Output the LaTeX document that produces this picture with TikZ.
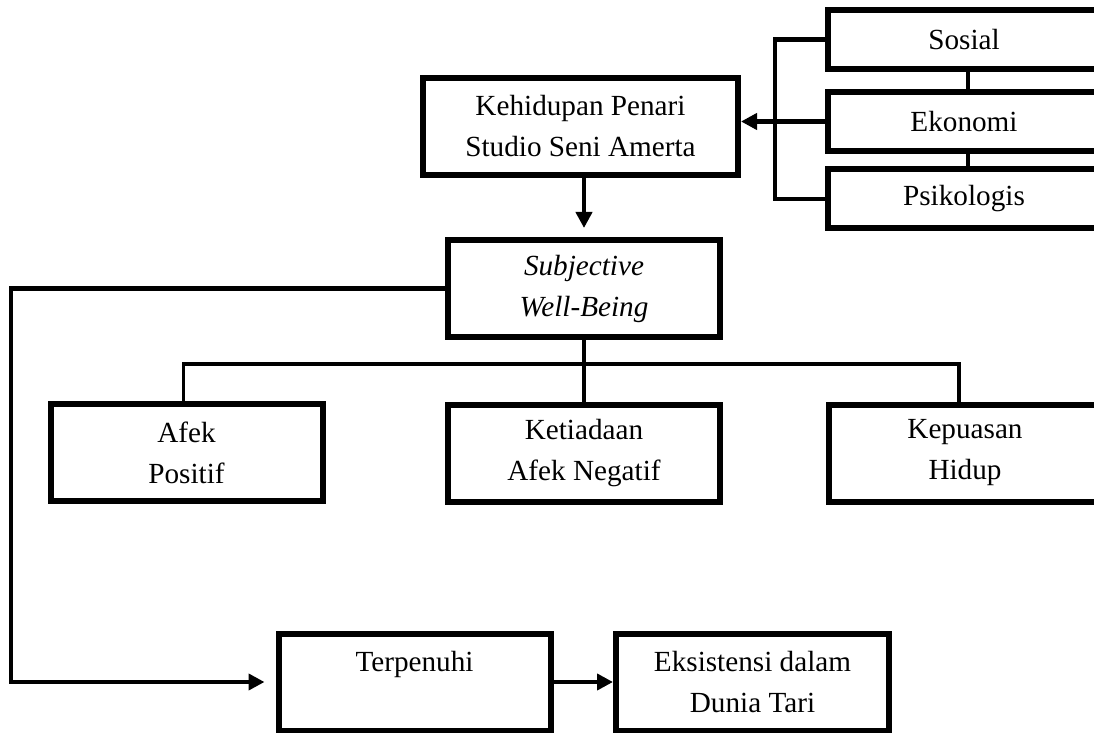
\documentclass[tikz,border=0pt]{standalone}
\usepackage{fontspec}
\setmainfont{Liberation Serif}
\usetikzlibrary{arrows.meta}

\begin{document}
\begin{tikzpicture}[x=0.5pt,y=-0.5pt,
    box/.style={draw,line width=3pt,align=center,inner sep=0pt,
      minimum width=136pt,minimum height=48.5pt,
      font=\fontsize{14.6}{20.5}\selectfont},
    side/.style={box,minimum height=29.5pt},
    link/.style={line width=2.2pt},
    branch/.style={line width=1.7pt},
    arr/.style={link,-{Triangle[length=8pt,width=8pt]}}]
    \useasboundingbox (0,0) rectangle (1094,733);
    \clip (0,0) rectangle (1094,733);

    % Aspects on the right
    \node[side] (sosial) at (964,39.5) {Sosial};
    \node[side] (ekonomi) at (964,121.5) {Ekonomi};
    \node[side] (psikologis) at (964,199) {Psikologis};
    \draw[link] ([xshift=2pt]sosial.south) -- ([xshift=2pt]ekonomi.north);
    \draw[link] ([xshift=2pt]ekonomi.south) -- ([xshift=2pt]psikologis.north);
    \coordinate (brk) at (775,122);
    \draw[link] (sosial.west) -| (brk) |- (psikologis.west);

    % Main chain
    \node[box,minimum width=157.5pt] (keh) at (580.5,126.5) {Kehidupan Penari\\Studio Seni Amerta};
    \draw[arr] (ekonomi.west) -- (ekonomi.west -| keh.east);
    \node[box] (swb) at (584,288.5) {\textit{Subjective}\\\textit{Well-Being}};
    \draw[arr,shorten >=4.5pt] (swb.north |- keh.south) -- (swb.north);

    % Components
    \node[box] (afek) at (186.5,452.5) {Afek\\Positif};
    \node[box] (ketiadaan) at (584,453) {Ketiadaan\\Afek Negatif};
    \node[box] (kepuasan) at (965,453) {Kepuasan\\Hidup};
    \coordinate (bar) at (584,364);
    \draw[link] (swb.south) -- (ketiadaan.north);
    \draw[branch] ([xshift=-1.5pt]afek.north) |- (bar) -| ([xshift=-3pt]kepuasan.north);

    % Outcome
    \node[box] (terpenuhi) at (414.5,682) {Terpenuhi\\\phantom{T}};
    \node[box,minimum width=136.5pt] (eksistensi) at (752.5,682) {Eksistensi dalam\\Dunia Tari};
    \coordinate (lft) at (11,500);
    \draw[arr,shorten >=5.5pt] (swb.west) -| (lft) |- (terpenuhi.west);
    \draw[arr] (terpenuhi.east) -- (eksistensi.west);
\end{tikzpicture}
\end{document}
